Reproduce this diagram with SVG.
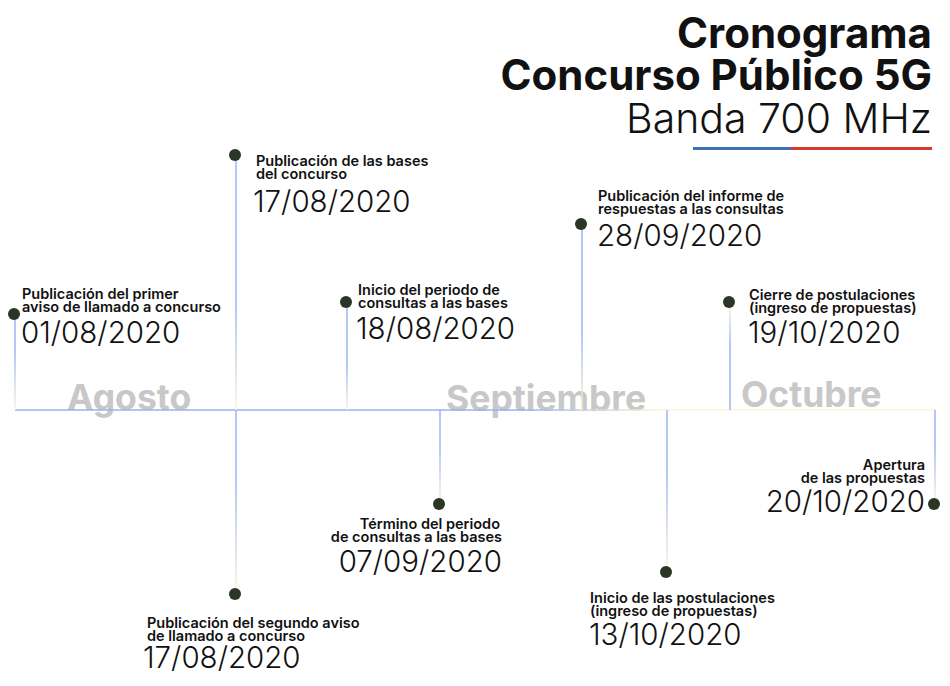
<svg xmlns="http://www.w3.org/2000/svg" width="950" height="686" viewBox="0 0 950 686">
<style>
.t{font-family:Inter,"Liberation Sans",sans-serif;fill:#111}
.lbl{font-size:14.5px;font-weight:600}
.date{font-size:29.5px;font-weight:300}
.month{font-family:Inter,"Liberation Sans",sans-serif;font-size:35.5px;font-weight:700;fill:#c8c8c8}
.dot{fill:#2b3626}
.r{text-anchor:end}
</style>
<defs>
<linearGradient id="gDown" x1="0" y1="0" x2="0" y2="1"><stop offset="0" stop-color="#94b2f0"/><stop offset="0.6" stop-color="#94b2f0"/><stop offset="1" stop-color="#fbf6d6"/></linearGradient>
<linearGradient id="gDown2" x1="0" y1="0" x2="0" y2="1"><stop offset="0" stop-color="#fbf6d6"/><stop offset="0.4" stop-color="#94b2f0"/><stop offset="1" stop-color="#94b2f0"/></linearGradient>
<linearGradient id="gUp" x1="0" y1="0" x2="0" y2="1"><stop offset="0" stop-color="#94b2f0"/><stop offset="0.4" stop-color="#94b2f0"/><stop offset="1" stop-color="#fbf6d6"/></linearGradient>
<linearGradient id="gH" x1="15" y1="0" x2="935" y2="0" gradientUnits="userSpaceOnUse"><stop offset="0" stop-color="#94b2f0"/><stop offset="0.55" stop-color="#94b2f0"/><stop offset="0.7" stop-color="#fbf6d6"/><stop offset="1" stop-color="#fbf6d6"/></linearGradient>
</defs>
<rect width="950" height="686" fill="#fff"/>

<g id="title">
<text class="t r" x="932" y="48" font-size="42" font-weight="700">Cronograma</text>
<text class="t r" x="932" y="90" font-size="42" font-weight="700">Concurso Público 5G</text>
<text class="t r" x="932" y="133" font-size="41" font-weight="300">Banda 700 MHz</text>
<rect x="693" y="147" width="98" height="3" fill="#3a72b8"/>
<rect x="791" y="147" width="141" height="3" fill="#d8382d"/>
</g>

<g id="months">
<text class="month" x="67" y="410">Agosto</text>
<text class="month" x="446" y="411">Septiembre</text>
<text class="month" x="741" y="407">Octubre</text>
</g>

<g id="connectors" fill="none" stroke-width="1.5">
<line x1="15" y1="410" x2="936" y2="410" stroke="url(#gH)"/>
<rect x="14.3" y="314" width="1.4" height="96" fill="url(#gUp)" stroke="none"/>
<rect x="235.3" y="155" width="1.4" height="255" fill="url(#gDown)" stroke="none"/>
<rect x="346.3" y="302" width="1.4" height="108" fill="url(#gDown)" stroke="none"/>
<rect x="581.3" y="224" width="1.4" height="186" fill="url(#gDown)" stroke="none"/>
<rect x="729.3" y="302" width="1.4" height="108" fill="url(#gDown2)" stroke="none"/>
<rect x="235.3" y="410" width="1.4" height="184" fill="url(#gUp)" stroke="none"/>
<rect x="439.3" y="410" width="1.4" height="94" fill="url(#gUp)" stroke="none"/>
<rect x="666.3" y="410" width="1.4" height="162" fill="url(#gUp)" stroke="none"/>
<rect x="934.3" y="410" width="1.4" height="94" fill="url(#gUp)" stroke="none"/>
</g>

<g id="n1">
<circle class="dot" cx="14" cy="314" r="6"/>
<text class="t lbl" x="22" y="299">Publicación del primer</text>
<text class="t lbl" x="22" y="311.5">aviso de llamado a concurso</text>
<text class="t date" x="21" y="343">01/08/2020</text>
</g>
<g id="n2">
<circle class="dot" cx="235" cy="155" r="6"/>
<text class="t lbl" x="256" y="166">Publicación de las bases</text>
<text class="t lbl" x="256" y="178.5">del concurso</text>
<text class="t date" x="253" y="212">17/08/2020</text>
</g>
<g id="n3">
<circle class="dot" cx="346" cy="302" r="6"/>
<text class="t lbl" x="358" y="295">Inicio del periodo de</text>
<text class="t lbl" x="358" y="307.5">consultas a las bases</text>
<text class="t date" x="356" y="339">18/08/2020</text>
</g>
<g id="n4">
<circle class="dot" cx="581" cy="224" r="6"/>
<text class="t lbl" x="598" y="201">Publicación del informe de</text>
<text class="t lbl" x="598" y="213.5">respuestas a las consultas</text>
<text class="t date" x="597" y="246">28/09/2020</text>
</g>
<g id="n5">
<circle class="dot" cx="729" cy="302" r="6"/>
<text class="t lbl" x="749" y="300">Cierre de postulaciones</text>
<text class="t lbl" x="749" y="312.5">(ingreso de propuestas)</text>
<text class="t date" x="748" y="343">19/10/2020</text>
</g>
<g id="n6">
<circle class="dot" cx="235" cy="594" r="6"/>
<text class="t lbl" x="147" y="628">Publicación del segundo aviso</text>
<text class="t lbl" x="147" y="640.5">de llamado a concurso</text>
<text class="t date" x="143" y="668">17/08/2020</text>
</g>
<g id="n7">
<circle class="dot" cx="439" cy="504" r="6"/>
<text class="t lbl r" x="500" y="529">Término del periodo</text>
<text class="t lbl r" x="502" y="541.5">de consultas a las bases</text>
<text class="t date r" x="502" y="572">07/09/2020</text>
</g>
<g id="n8">
<circle class="dot" cx="666" cy="572" r="6"/>
<text class="t lbl" x="590" y="603">Inicio de las postulaciones</text>
<text class="t lbl" x="590" y="615.5">(ingreso de propuestas)</text>
<text class="t date" x="589" y="645">13/10/2020</text>
</g>
<g id="n9">
<circle class="dot" cx="934" cy="504" r="6"/>
<text class="t lbl r" x="925" y="470">Apertura</text>
<text class="t lbl r" x="925" y="482.5">de las propuestas</text>
<text class="t date r" x="925" y="512">20/10/2020</text>
</g>
</svg>
